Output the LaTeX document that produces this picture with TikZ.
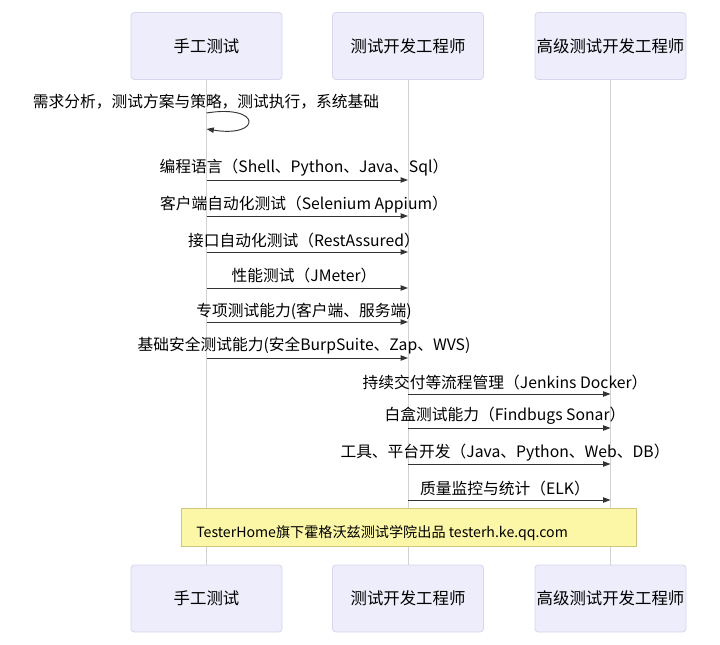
\documentclass[tikz,border=0pt]{standalone}
\usepackage{fontspec}
\setmainfont{Noto Sans CJK SC}
\usetikzlibrary{arrows.meta}
\definecolor{actfill}{HTML}{EDEDFB}
\definecolor{actdraw}{HTML}{D6D6EE}
\definecolor{lifeln}{HTML}{D2D2D2}
\definecolor{notefill}{HTML}{FCF7A6}
\definecolor{notedraw}{HTML}{CFC77E}
\definecolor{msgc}{HTML}{333333}
\tikzset{
  actor/.style={draw=actdraw, fill=actfill, rounded corners=2.5pt, line width=0.6pt,
    minimum width=151*0.75pt, minimum height=67*0.75pt, inner sep=0pt,
    font=\fontsize{12.3pt}{14pt}\selectfont, text=black},
  life/.style={draw=lifeln, line width=0.5pt},
  msg/.style={draw=msgc, line width=0.7pt, -{Triangle[length=5.5pt,width=4pt]}},
  lbl/.style={font=\fontsize{11.8pt}{14pt}\selectfont, text=black, inner sep=0pt},
  notebox/.style={draw=notedraw, fill=notefill, line width=0.6pt, minimum width=455*0.75pt,
    minimum height=38*0.75pt, inner sep=0pt}
}
\begin{document}
\begin{tikzpicture}[x=0.75pt,y=-0.75pt]
\fill[white] (0,0) rectangle (720,645);
\useasboundingbox (0,0) rectangle (720,645);
% actors
\node[actor] (t1) at (206.5,46) {手工测试};
\node[actor] (t2) at (408,46) {测试开发工程师};
\node[actor] (t3) at (610.5,46) {高级测试开发工程师};
\node[actor] (b1) at (206.5,598.5) {手工测试};
\node[actor] (b2) at (408,598.5) {测试开发工程师};
\node[actor] (b3) at (610.5,598.5) {高级测试开发工程师};
% lifelines
\draw[life] (t1.south) -- (b1.north);
\draw[life] (t2.south) -- (b2.north);
\draw[life] (t3.south) -- (b3.north);
% self message
\coordinate (s0) at (206.5,113);
\coordinate (s1) at (206.5,129);
\node[lbl] (ls) at (206,102) {需求分析，测试方案与策略，测试执行，系统基础};
\draw[msg] (s0) .. controls (262,104) and (262,138) .. (s1);
% messages actor1 -> actor2
\foreach \i/\ly/\ay/\txt in {
  1/168/180/{编程语言（Shell、Python、Java、Sql）},
  2/205/216/{客户端自动化测试（Selenium Appium）},
  3/241/252/{接口自动化测试（RestAssured）},
  4/276/288/{性能测试（JMeter）},
  5/311/322/{专项测试能力(客户端、服务端)},
  6/346/358/{基础安全测试能力(安全BurpSuite、Zap、WVS)}}{
  \coordinate (p\i) at (206.5,\ay);
  \coordinate (q\i) at (408,\ay);
  \node[lbl] (l\i) at (304,\ly) {\txt};
  \draw[msg] (p\i) -- (q\i);
}
% messages actor2 -> actor3
\foreach \i/\ly/\ay/\txt in {
  7/383/394/{持续交付等流程管理（Jenkins Docker）},
  8/416/428/{白盒测试能力（Findbugs Sonar）},
  9/453/464/{工具、平台开发（Java、Python、Web、DB）},
  10/489/500/{质量监控与统计（ELK）}}{
  \coordinate (p\i) at (408,\ay);
  \coordinate (q\i) at (610.5,\ay);
  \node[lbl] (l\i) at (505,\ly) {\txt};
  \draw[msg] (p\i) -- (q\i);
}
% note
\node[notebox] (note) at (408.5,527) {};
\node[lbl, anchor=west, font=\fontsize{10.6pt}{12pt}\selectfont] (notetxt) at (196,533) {TesterHome旗下霍格沃兹测试学院出品 testerh.ke.qq.com};
\end{tikzpicture}
\end{document}
